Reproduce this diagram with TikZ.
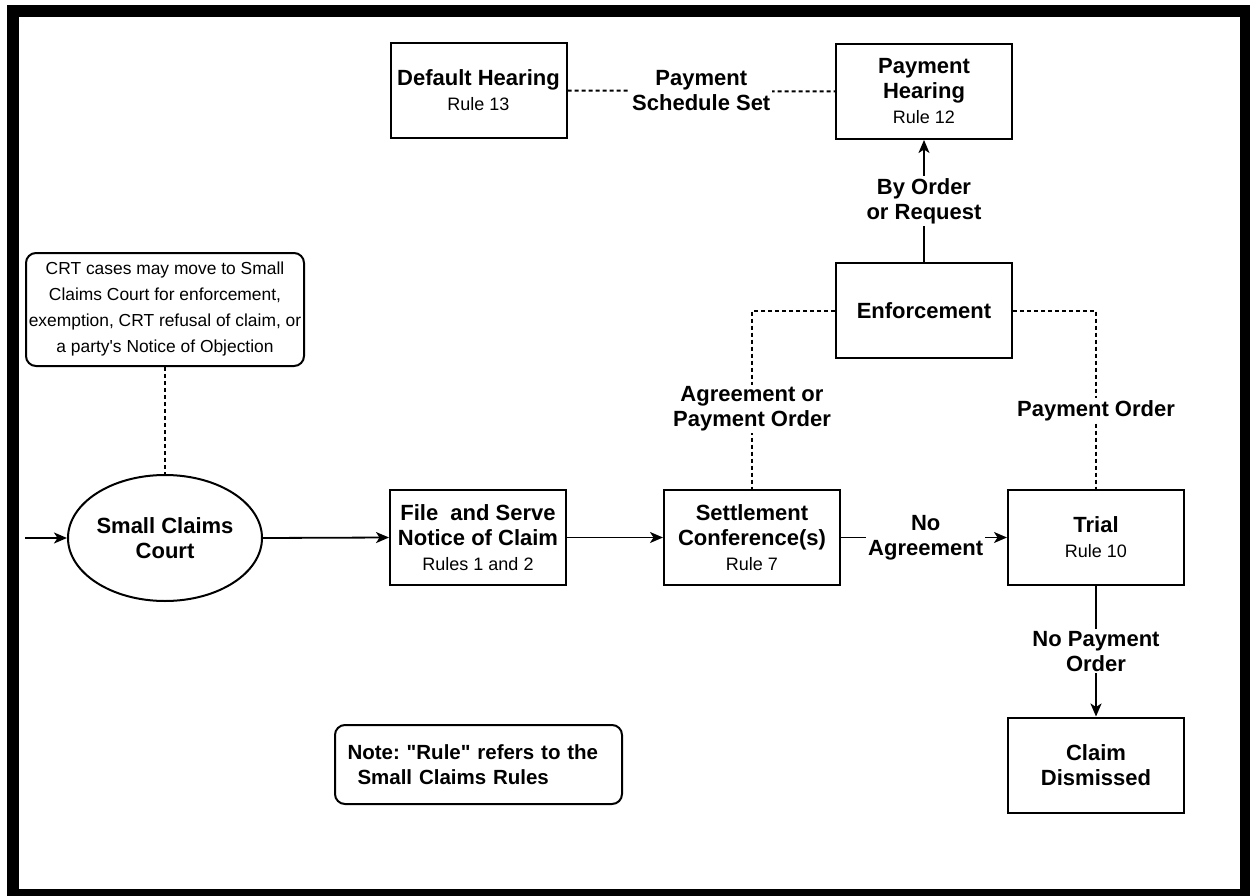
\documentclass[tikz,border=0pt]{standalone}
\usepackage{fontspec}
\setmainfont{Liberation Sans}[Ligatures=TeXOff]
\usetikzlibrary{shapes.geometric,arrows.meta}
\newcommand\rulefnt{\mdseries\fontsize{18}{25}\selectfont}
\begin{document}
\frenchspacing
\begin{tikzpicture}[x=1pt,y=-1pt,
  box/.style={draw, line width=2pt, minimum width=176pt, minimum height=95pt,
    align=center, inner sep=0pt, font=\bfseries\fontsize{22}{25}\selectfont},
  rbox/.style={draw, line width=2pt, rounded corners=10pt, inner sep=0pt},
  conn/.style={line width=1.8pt},
  arr/.style={conn, -{Stealth[length=13pt,width=11pt,inset=3.5pt]}},
  dashln/.style={line width=2pt, dash pattern=on 4pt off 3pt},
  lbl/.style={fill=white, align=center, inner sep=2pt, font=\bfseries\fontsize{22}{25}\selectfont}
]
\useasboundingbox (0,0) rectangle (1250,896);
% frame
\fill[black] (7,5) rectangle (1250,896);
\fill[white] (19,17) rectangle (1240,889);

% nodes
\node[rbox, minimum width=278pt, minimum height=113pt, align=center,
      font=\fontsize{17.4}{26}\selectfont] (crt) at (165,309.5)
  {CRT cases may move to Small\\Claims Court for enforcement,\\exemption, CRT refusal of claim, or\\a party's Notice of Objection};
\node[draw, ellipse, line width=2pt, minimum width=194pt, minimum height=126pt, inner sep=0pt,
      align=center, font=\bfseries\fontsize{22}{25}\selectfont] (scc) at (165,538)
  {Small Claims\\Court};
\node[box] (def) at (478.5,90.5) {Default Hearing\\{\rulefnt Rule 13}};
\node[box] (pay) at (924,91.5) {Payment\\Hearing\\{\rulefnt Rule 12}};
\node[box] (enf) at (924,310.5) {Enforcement};
\node[box] (file) at (478,537.5) {File~ and Serve\\Notice of Claim\\{\rulefnt Rules 1 and 2}};
\node[box] (set) at (752,537.5) {Settlement\\Conference(s)\\{\rulefnt Rule 7}};
\node[box] (trial) at (1096,537.5) {Trial\\{\rulefnt Rule 10}};
\node[box] (dis) at (1096,765) {Claim\\Dismissed};
\node[rbox, minimum width=287pt, minimum height=79pt, text width=262pt, inner xsep=12.5pt,
      align=left, font=\bfseries\fontsize{20.5}{25}\selectfont] (note) at (478.5,764.5)
  {Note: "Rule" refers to the\\\hspace*{10pt}Small Claims Rules};

% connectors
\coordinate (in) at (25,538);
\draw[arr] (in) -- (scc.west);
\draw[dashln] (crt.south) -- (scc.north);
\draw[arr] (scc.east) -- (file.west);
\draw[arr] (file.east) -- (set.west);
\draw[arr] (set.east) -- node[lbl, pos=0.51] {No\\Agreement} (trial.west);
\draw[dashln] (enf.west) -| node[lbl, pos=0.776] {Agreement or\\Payment Order} (set.north);
\draw[dashln] (enf.east) -| node[lbl, pos=0.78] {Payment Order} (trial.north);
\draw[arr] (enf.north) -- node[lbl] {By Order\\or Request} (pay.south);
\draw[dashln] (def.east) -- node[lbl] {Payment\\Schedule Set} (pay.west);
\draw[arr] (trial.south) -- node[lbl] {No Payment\\Order} (dis.north);
\end{tikzpicture}
\end{document}
